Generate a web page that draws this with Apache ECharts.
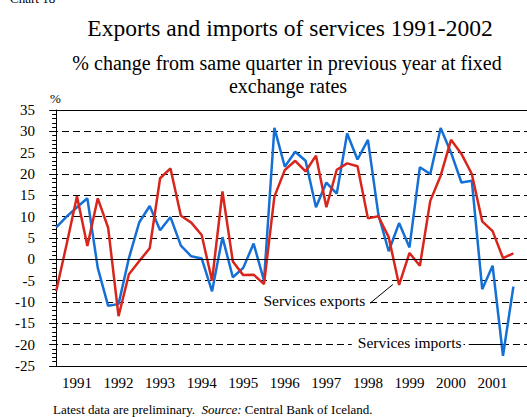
<!DOCTYPE html>
<html><head><meta charset="utf-8">
<script src="https://cdn.jsdelivr.net/npm/echarts@6/dist/echarts.min.js"></script>
<style>html,body{margin:0;padding:0;background:#fff}#c{width:527px;height:417px}</style>
</head><body><div id="c"></div>
<script>
// Year tick labels (label shown under the third quarter of each year)
const years = ['1991','1992','1993','1994','1995','1996','1997','1998','1999','2000','2001'];
// Quarterly % change, 1991Q1 .. 2002Q1
const servicesExports = [
  -7.4, 3.5, 14.8, 3.1, 14.3, 7.4, -13.3, -3.5, -0.4, 2.6, 19.0, 21.3,
  10.2, 8.6, 5.7, -5.0, 15.9, -0.5, -3.7, -3.6, -5.8, 14.7, 20.9, 23.1,
  20.6, 24.3, 12.2, 21.0, 22.5, 21.8, 9.6, 10.1, 5.2, -6.0, 1.5, -1.5,
  13.7, 19.6, 28.0, 24.7, 20.0, 8.9, 6.6, 0.3, 1.4
];
const servicesImports = [
  7.5, 10.0, 12.2, 14.3, -2.0, -10.9, -10.5, 0.3, 8.7, 12.5, 6.8, 9.9,
  3.2, 0.7, 0.2, -7.5, 5.2, -4.2, -2.0, 3.7, -5.0, 30.8, 21.7, 25.2,
  23.1, 12.2, 18.0, 15.4, 29.5, 23.4, 28.0, 10.6, 1.9, 8.5, 2.8, 21.6,
  20.0, 30.8, 25.0, 18.0, 18.4, -7.0, -1.5, -22.6, -6.4
];
const yMin = -25, yMax = 35, yStep = 5;

const SERIF = '"Liberation Serif", "Times New Roman", serif';
const yearPos = years.map((y, k) => 2 + 4 * k);

const chart = echarts.init(document.getElementById('c'), null, {renderer: 'svg'});
const arrowStyle = {color: '#000', width: 1, type: 'solid'};
chart.setOption({
  animation: false,
  backgroundColor: '#fff',
  grid: {left: 51, right: 0, top: 110, bottom: 51, containLabel: false},
  xAxis: {
    type: 'value', min: -0.5, max: 45.31,
    axisLine: {show: true, onZero: false, lineStyle: {color: '#000', width: 1}},
    axisTick: {show: false},
    splitLine: {show: false},
    axisLabel: {
      customValues: yearPos,
      formatter: v => years[Math.round((v - 2) / 4)],
      fontFamily: SERIF, fontSize: 15, color: '#000', margin: 9
    }
  },
  yAxis: {
    type: 'value', min: yMin, max: yMax, interval: yStep,
    axisLine: {show: true, lineStyle: {color: '#000', width: 1}},
    axisTick: {show: true, length: 7, lineStyle: {color: '#000'}},
    minorTick: {show: true, splitNumber: 5, length: 4, lineStyle: {color: '#000'}},
    splitLine: {show: true, lineStyle: {color: '#000', width: 1, type: [7, 4]}},
    axisLabel: {fontFamily: SERIF, fontSize: 15, color: '#000', margin: 16}
  },
  series: [
    {
      name: 'Services imports', type: 'line', showSymbol: false,
      data: servicesImports.map((v, i) => [i, v]),
      lineStyle: {color: '#1570d6', width: 2.5}, itemStyle: {color: '#1570d6'},
      markLine: {
        silent: true, symbol: ['none', 'arrow'], symbolSize: [0, 9],
        label: {show: false}, lineStyle: arrowStyle,
        data: [
          [{coord: [39.7, -19.9], symbol: 'none'}, {coord: [42.9, -19.9], symbol: 'arrow'}]
        ]
      }
    },
    {
      name: 'Services exports', type: 'line', showSymbol: false,
      data: servicesExports.map((v, i) => [i, v]),
      lineStyle: {color: '#d9261c', width: 2.5}, itemStyle: {color: '#d9261c'},
      markLine: {
        silent: true, symbol: ['none', 'arrow'], symbolSize: [0, 9],
        label: {show: false}, lineStyle: arrowStyle,
        data: [
          [{coord: [30.2, -10.3], symbol: 'none'}, {coord: [32.4, -5.9], symbol: 'arrow'}],
          [{coord: [-0.5, 0], symbol: 'none'}, {coord: [45.31, 0], symbol: 'none'}],
          [{coord: [-0.5, 35], symbol: 'none'}, {coord: [45.31, 35], symbol: 'none'}]
        ]
      }
    }
  ]
});

const pExp = chart.convertToPixel({gridIndex: 0}, [29.95, -9.55]);
const pImp = chart.convertToPixel({gridIndex: 0}, [39.2, -19.5]);
const txt = (x, y, text, size, align, extra) => ({
  type: 'text', x: x, y: y, silent: true, z: 100,
  style: Object.assign({text: text, fontFamily: SERIF, fontSize: size, fill: '#000',
    align: align || 'left', verticalAlign: 'middle'}, extra || {})
});
chart.setOption({
  graphic: [
    txt(10, -2, 'Chart 18', 13),
    txt(290, 28, 'Exports and imports of services 1991-2002', 23.5, 'center'),
    txt(287, 63, '% change from same quarter in previous year at fixed', 20, 'center'),
    txt(288, 86, 'exchange rates', 20, 'center'),
    txt(50, 98, '%', 13),
    txt(pExp[0], pExp[1], 'Services exports', 15.5, 'right',
        {backgroundColor: '#fff', padding: [0, 2, 0, 6]}),
    txt(pImp[0], pImp[1], 'Services imports', 15.5, 'right',
        {backgroundColor: '#fff', padding: [0, 2, 0, 6]}),
    {
      type: 'text', x: 53, y: 409, silent: true,
      style: {
        text: '{n|Latest data are preliminary.  }{i|Source:}{n| Central Bank of Iceland.}',
        fontFamily: SERIF, fontSize: 13, fill: '#000', verticalAlign: 'middle',
        rich: {
          n: {fontFamily: SERIF, fontSize: 13, fill: '#000'},
          i: {fontFamily: SERIF, fontSize: 13, fontStyle: 'italic', fill: '#000'}
        }
      }
    }
  ]
});
</script></body></html>
